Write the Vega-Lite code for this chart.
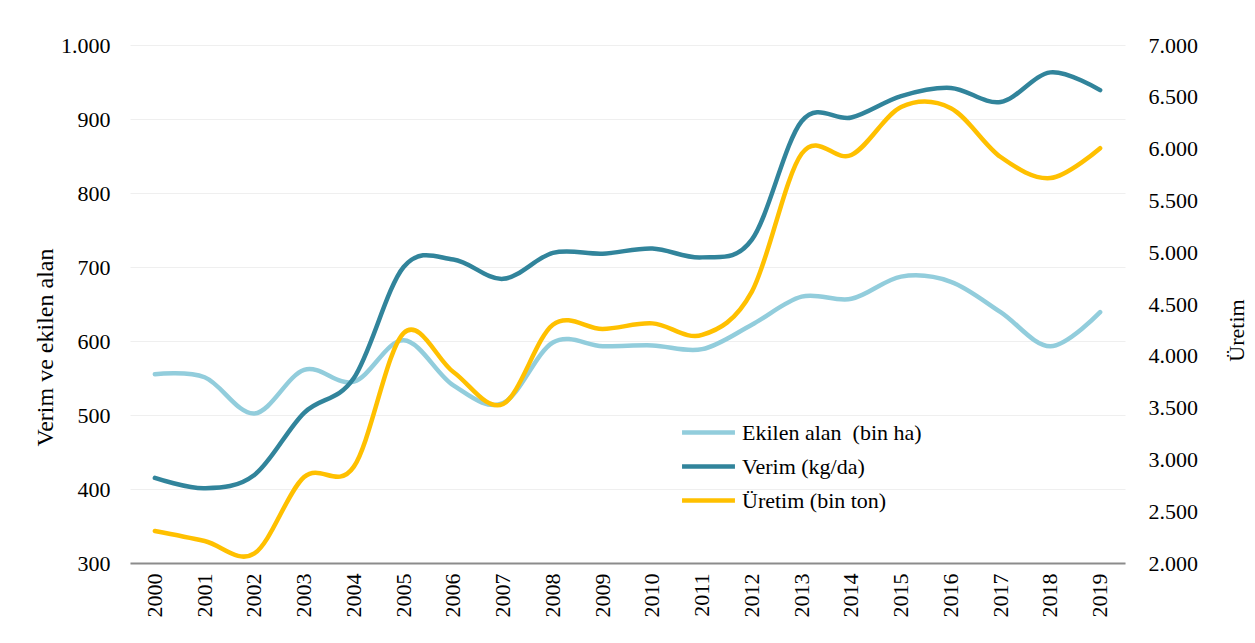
{
  "$schema": "https://vega.github.io/schema/vega-lite/v6.json",
  "width": 995,
  "height": 518,
  "autosize": {"type": "none"},
  "padding": {"left": 130, "top": 45, "right": 130, "bottom": 80},
  "background": "white",
  "config": {
    "view": {"stroke": null},
    "font": "'Liberation Serif', 'Times New Roman', 'DejaVu Serif', serif",
    "axis": {"labelFont": "'Liberation Serif', 'Times New Roman', serif", "titleFont": "'Liberation Serif', 'Times New Roman', serif", "labelColor": "#000000", "titleColor": "#000000", "titleFontWeight": "normal"},
    "legend": {"labelFont": "'Liberation Serif', 'Times New Roman', serif"}
  },
  "data": {
    "values": [
      {"year": "2000", "series": "Ekilen alan \u00a0(bin ha)", "value": 555},
      {"year": "2001", "series": "Ekilen alan \u00a0(bin ha)", "value": 551},
      {"year": "2002", "series": "Ekilen alan \u00a0(bin ha)", "value": 502},
      {"year": "2003", "series": "Ekilen alan \u00a0(bin ha)", "value": 561},
      {"year": "2004", "series": "Ekilen alan \u00a0(bin ha)", "value": 545},
      {"year": "2005", "series": "Ekilen alan \u00a0(bin ha)", "value": 601},
      {"year": "2006", "series": "Ekilen alan \u00a0(bin ha)", "value": 540},
      {"year": "2007", "series": "Ekilen alan \u00a0(bin ha)", "value": 516},
      {"year": "2008", "series": "Ekilen alan \u00a0(bin ha)", "value": 598},
      {"year": "2009", "series": "Ekilen alan \u00a0(bin ha)", "value": 593},
      {"year": "2010", "series": "Ekilen alan \u00a0(bin ha)", "value": 594},
      {"year": "2011", "series": "Ekilen alan \u00a0(bin ha)", "value": 589},
      {"year": "2012", "series": "Ekilen alan \u00a0(bin ha)", "value": 622},
      {"year": "2013", "series": "Ekilen alan \u00a0(bin ha)", "value": 660},
      {"year": "2014", "series": "Ekilen alan \u00a0(bin ha)", "value": 657},
      {"year": "2015", "series": "Ekilen alan \u00a0(bin ha)", "value": 687},
      {"year": "2016", "series": "Ekilen alan \u00a0(bin ha)", "value": 680},
      {"year": "2017", "series": "Ekilen alan \u00a0(bin ha)", "value": 639},
      {"year": "2018", "series": "Ekilen alan \u00a0(bin ha)", "value": 593},
      {"year": "2019", "series": "Ekilen alan \u00a0(bin ha)", "value": 639},
      {"year": "2000", "series": "Verim (kg/da)", "value": 415},
      {"year": "2001", "series": "Verim (kg/da)", "value": 401},
      {"year": "2002", "series": "Verim (kg/da)", "value": 419},
      {"year": "2003", "series": "Verim (kg/da)", "value": 503},
      {"year": "2004", "series": "Verim (kg/da)", "value": 550},
      {"year": "2005", "series": "Verim (kg/da)", "value": 700},
      {"year": "2006", "series": "Verim (kg/da)", "value": 710},
      {"year": "2007", "series": "Verim (kg/da)", "value": 684},
      {"year": "2008", "series": "Verim (kg/da)", "value": 719},
      {"year": "2009", "series": "Verim (kg/da)", "value": 718},
      {"year": "2010", "series": "Verim (kg/da)", "value": 725},
      {"year": "2011", "series": "Verim (kg/da)", "value": 713},
      {"year": "2012", "series": "Verim (kg/da)", "value": 737},
      {"year": "2013", "series": "Verim (kg/da)", "value": 897},
      {"year": "2014", "series": "Verim (kg/da)", "value": 902},
      {"year": "2015", "series": "Verim (kg/da)", "value": 931},
      {"year": "2016", "series": "Verim (kg/da)", "value": 942},
      {"year": "2017", "series": "Verim (kg/da)", "value": 923},
      {"year": "2018", "series": "Verim (kg/da)", "value": 963},
      {"year": "2019", "series": "Verim (kg/da)", "value": 939},
      {"year": "2000", "series": "Üretim (bin ton)", "value": 2309},
      {"year": "2001", "series": "Üretim (bin ton)", "value": 2212},
      {"year": "2002", "series": "Üretim (bin ton)", "value": 2092},
      {"year": "2003", "series": "Üretim (bin ton)", "value": 2830},
      {"year": "2004", "series": "Üretim (bin ton)", "value": 2930},
      {"year": "2005", "series": "Üretim (bin ton)", "value": 4220},
      {"year": "2006", "series": "Üretim (bin ton)", "value": 3844},
      {"year": "2007", "series": "Üretim (bin ton)", "value": 3535},
      {"year": "2008", "series": "Üretim (bin ton)", "value": 4300},
      {"year": "2009", "series": "Üretim (bin ton)", "value": 4259},
      {"year": "2010", "series": "Üretim (bin ton)", "value": 4313},
      {"year": "2011", "series": "Üretim (bin ton)", "value": 4201},
      {"year": "2012", "series": "Üretim (bin ton)", "value": 4620},
      {"year": "2013", "series": "Üretim (bin ton)", "value": 5950},
      {"year": "2014", "series": "Üretim (bin ton)", "value": 5938},
      {"year": "2015", "series": "Üretim (bin ton)", "value": 6401},
      {"year": "2016", "series": "Üretim (bin ton)", "value": 6390},
      {"year": "2017", "series": "Üretim (bin ton)", "value": 5919},
      {"year": "2018", "series": "Üretim (bin ton)", "value": 5716},
      {"year": "2019", "series": "Üretim (bin ton)", "value": 6004}
    ]
  },
  "encoding": {
    "x": {
      "field": "year",
      "type": "ordinal",
      "scale": {"type": "band", "paddingInner": 0, "paddingOuter": 0},
      "axis": {
        "title": null,
        "labelAngle": -90,
        "labelFontSize": 22,
        "labelPadding": 10,
        "ticks": false,
        "domainColor": "#8c8c8c",
        "domainWidth": 2,
        "grid": false
      }
    },
    "color": {
      "field": "series",
      "type": "nominal",
      "scale": {
        "domain": ["Ekilen alan \u00a0(bin ha)", "Verim (kg/da)", "Üretim (bin ton)"],
        "range": ["#92CDDC", "#31849B", "#FFC000"]
      },
      "legend": {
        "title": null,
        "orient": "none",
        "legendX": 563,
        "legendY": 372,
        "symbolType": "M-2,0H2",
        "symbolSize": 700,
        "symbolStrokeWidth": 4.5,
        "symbolFillColor": "transparent",
        "labelFontSize": 22,
        "labelColor": "#000000",
        "labelOffset": 18,
        "labelLimit": 500,
        "rowPadding": 7
      }
    }
  },
  "layer": [
    {
      "transform": [{"filter": "datum.series != 'Üretim (bin ton)'"}],
      "mark": {"type": "line", "interpolate": "cardinal", "tension": 0, "strokeWidth": 4.5, "strokeCap": "round"},
      "encoding": {
        "y": {
          "field": "value",
          "type": "quantitative",
          "scale": {"domain": [300, 1000], "nice": false, "zero": false},
          "axis": {
            "orient": "left",
            "values": [300, 400, 500, 600, 700, 800, 900, 1000],
            "labelExpr": "replace(format(datum.value, ','), ',', '.')",
            "labelFontSize": 22,
            "labelPadding": 20,
            "ticks": false,
            "domain": false,
            "grid": true,
            "gridColor": "#efefef",
            "gridWidth": 1,
            "title": "Verim ve ekilen alan",
            "titleFontSize": 24,
            "titleAngle": -90,
            "titleX": -78,
            "titleY": 302,
            "titleAlign": "center",
            "titleBaseline": "alphabetic"
          }
        }
      }
    },
    {
      "transform": [{"filter": "datum.series == 'Üretim (bin ton)'"}],
      "mark": {"type": "line", "interpolate": "cardinal", "tension": 0, "strokeWidth": 4.5, "strokeCap": "round"},
      "encoding": {
        "y": {
          "field": "value",
          "type": "quantitative",
          "scale": {"domain": [2000, 7000], "nice": false, "zero": false},
          "axis": {
            "orient": "right",
            "values": [2000, 2500, 3000, 3500, 4000, 4500, 5000, 5500, 6000, 6500, 7000],
            "labelExpr": "replace(format(datum.value, ','), ',', '.')",
            "labelFontSize": 22,
            "labelPadding": 23,
            "ticks": false,
            "domain": false,
            "grid": false,
            "title": "Üretim",
            "titleFontSize": 22,
            "titleAngle": -90,
            "titleX": 118,
            "titleY": 285,
            "titleAlign": "center",
            "titleBaseline": "alphabetic"
          }
        }
      }
    }
  ],
  "resolve": {"scale": {"y": "independent"}}
}
